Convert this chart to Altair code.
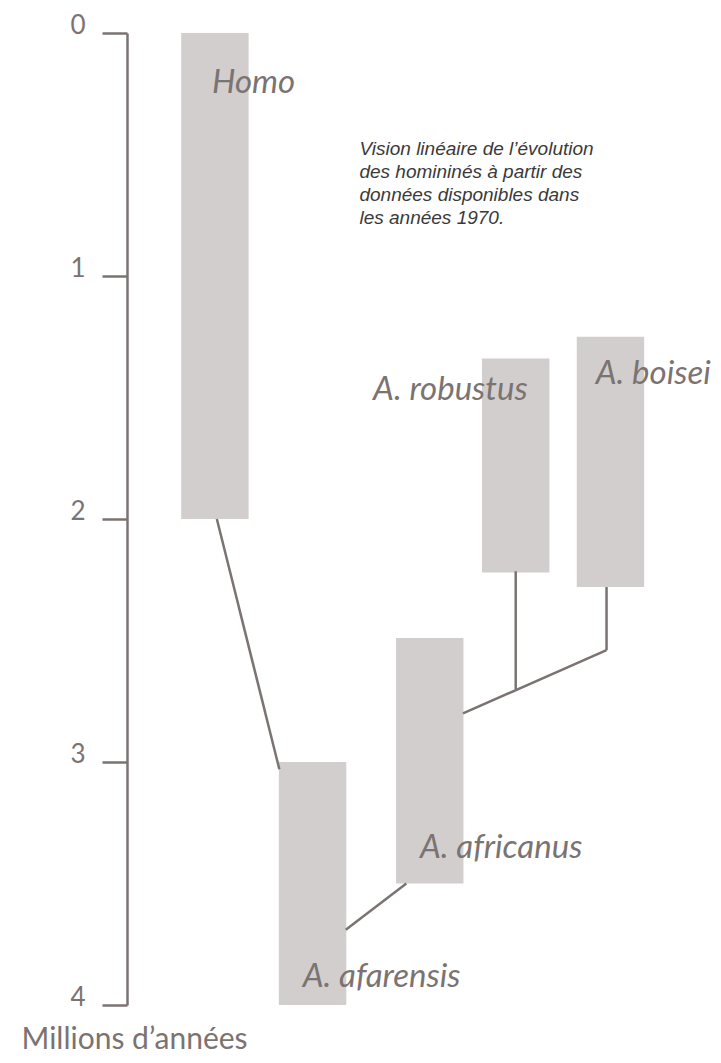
import altair as alt
import pandas as pd

# ---- data ----
species = ["Homo", "A. afarensis", "A. africanus", "A. robustus", "A. boisei"]
start_mya = [0.0, 3.0, 2.49, 1.34, 1.25]      # youngest (top of bar)
end_mya = [2.0, 4.0, 3.5, 2.22, 2.28]         # oldest (bottom of bar)
column = [0.9, 1.9, 3.1, 3.98, 4.95]          # horizontal slot of each taxon

label_x = [0.87, 1.80, 3.00, 2.52, 4.80]
label_y = [0.247, 3.926, 3.395, 1.51, 1.445]

link_x1 = [0.92, 2.24, 3.44, 3.98, 4.91]
link_y1 = [2.0, 3.69, 2.80, 2.215, 2.28]
link_x2 = [1.56, 2.86, 4.91, 3.98, 4.91]
link_y2 = [3.03, 3.5, 2.54, 2.70, 2.54]

note_lines = [
    "Vision linéaire de l’évolution",
    "des homininés à partir des",
    "données disponibles dans",
    "les années 1970.",
]
y_ticks = [0, 1, 2, 3, 4]

HALF = 0.345
GREY = "#7b7372"
BAR = "#d1cecd"

bars_df = pd.DataFrame({"species": species, "start": start_mya, "end": end_mya, "col": column})
labels_df = pd.DataFrame({"species": species, "lx": label_x, "ly": label_y})
links_df = pd.DataFrame({"x1": link_x1, "y1": link_y1, "x2": link_x2, "y2": link_y2})
note_df = pd.DataFrame({"text": ["\n".join(note_lines)], "nx": [2.38], "ny": [0.50]})

xs = alt.Scale(domain=[0, 6], nice=False, zero=False)
ys = alt.Scale(domain=[0, 4], nice=False, zero=False, reverse=True)

y_axis = alt.Axis(
    values=y_ticks, format="d", grid=False,
    domainColor=GREY, domainWidth=2.5, tickColor=GREY, tickWidth=2.5, tickSize=25,
    labelFont="Lato", labelFontSize=26, labelColor=GREY, labelPadding=17,
    labelBaseline="alphabetic",
    title="Millions d’années", titleFont="Lato", titleFontSize=30, titleFontWeight="normal",
    titleColor=GREY, titleAngle=0, titleAlign="left", titleBaseline="alphabetic",
    titleX=-106, titleY=1048 - 33,
)

bars = alt.Chart(bars_df).transform_calculate(
    xa=f"datum.col - {HALF}", xb=f"datum.col + {HALF}"
).mark_rect(color=BAR).encode(
    x=alt.X("xa:Q", scale=xs, axis=None),
    x2="xb:Q",
    y=alt.Y("start:Q", scale=ys, axis=y_axis),
    y2="end:Q",
)

links = alt.Chart(links_df).mark_rule(color=GREY, strokeWidth=2.5).encode(
    x=alt.X("x1:Q", scale=xs, axis=None), x2="x2:Q",
    y=alt.Y("y1:Q", scale=ys, axis=y_axis), y2="y2:Q",
)

labels = alt.Chart(labels_df).mark_text(
    font="Lato", fontStyle="italic", fontSize=33, color=GREY,
    align="left", baseline="alphabetic",
).encode(
    x=alt.X("lx:Q", scale=xs, axis=None), y=alt.Y("ly:Q", scale=ys, axis=y_axis), text="species:N",
)

note = alt.Chart(note_df).mark_text(
    font="Liberation Sans", fontStyle="italic", fontSize=19, color="#3a3a3a",
    align="left", baseline="alphabetic", lineBreak="\n", lineHeight=23,
).encode(
    x=alt.X("nx:Q", scale=xs, axis=None), y=alt.Y("ny:Q", scale=ys, axis=y_axis), text="text:N",
)

chart = alt.layer(bars, links, labels, note).properties(
    width=586, height=972,
    autosize=alt.AutoSizeParams(type="none"),
    padding={"left": 119, "top": 25, "right": 0, "bottom": 50},
    background="white",
).configure_view(stroke=None)

chart.save("out.html", embed_options={"renderer": "svg", "actions": False})
